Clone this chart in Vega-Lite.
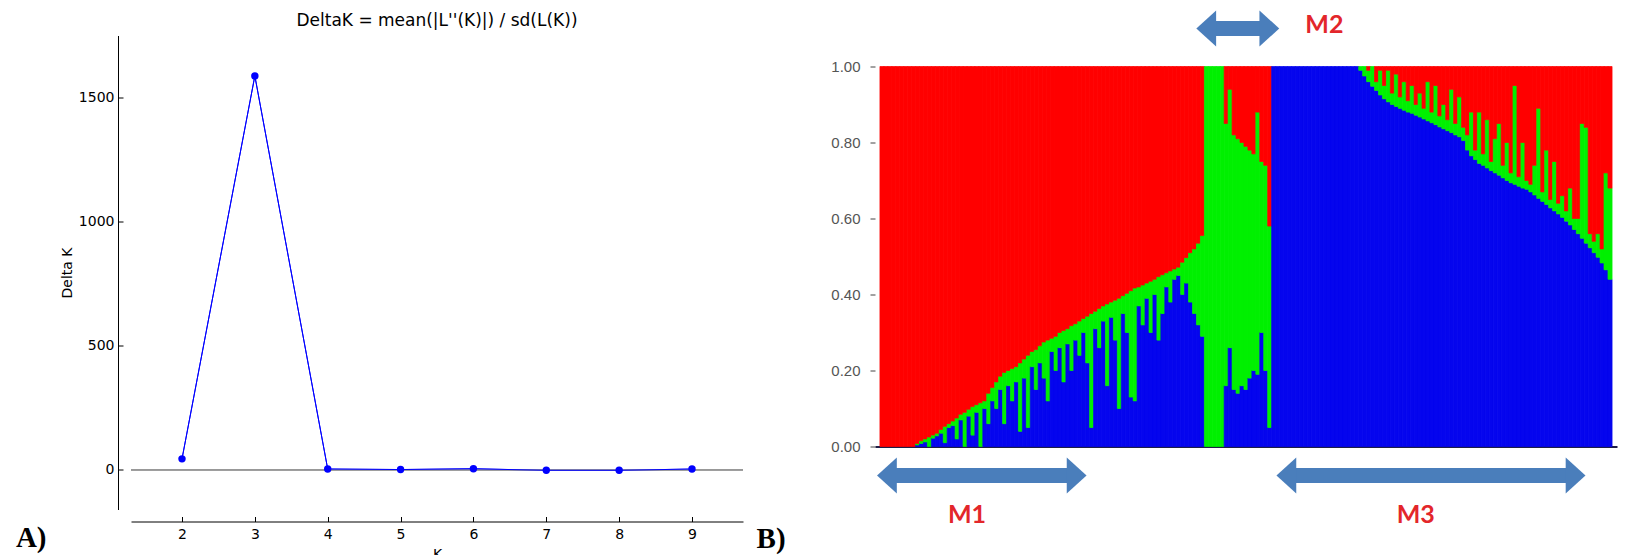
{
 "$schema": "https://vega.github.io/schema/vega-lite/v6.json",
 "background": "white",
 "padding": {"left": 15, "top": 10.5, "right": 5, "bottom": 0},
 "spacing": 132,
 "bounds": "flush",
 "config": {"view": {"stroke": null}, "axis": {"grid": false}},
 "datasets": {
  "deltak": [
   {"K": 2, "deltaK": 44}, {"K": 3, "deltaK": 1587}, {"K": 4, "deltaK": 3}, {"K": 5, "deltaK": 1},
   {"K": 6, "deltaK": 4}, {"K": 7, "deltaK": -2}, {"K": 8, "deltaK": -2}, {"K": 9, "deltaK": 3}
  ],
  "panelA": [{"text": "A)", "k": -0.28, "v": -313}],
  "panelB": [{"text": "B)", "i": -30.7, "q": -0.266}],
  "arrows": [
   {"label": "M1", "from": -0.25, "to": 52.7, "q": -0.076},
   {"label": "M2", "from": 80.45, "to": 101.4, "q": 1.1},
   {"label": "M3", "from": 100.7, "to": 178.8, "q": -0.076}
  ],
  "arrowLabels": [
   {"label": "M1", "i": 22.5, "q": -0.179},
   {"label": "M2", "i": 112.8, "q": 1.108},
   {"label": "M3", "i": 135.9, "q": -0.179}
  ],
  "structure": [
   {"i":1,"K1":0,"K2":0,"K3":1},{"i":2,"K1":0,"K2":0,"K3":1},{"i":3,"K1":0,"K2":0,"K3":1},{"i":4,"K1":0,"K2":0,"K3":1},{"i":5,"K1":0,"K2":0,"K3":1},{"i":6,"K1":0,"K2":0,"K3":1},{"i":7,"K1":0,"K2":0,"K3":1},{"i":8,"K1":0,"K2":0,"K3":1},{"i":9,"K1":0,"K2":0,"K3":1},
   {"i":10,"K1":0.004,"K2":0.004,"K3":0.992},{"i":11,"K1":0.008,"K2":0.007,"K3":0.985},{"i":12,"K1":0.012,"K2":0.008,"K3":0.98},{"i":13,"K1":0,"K2":0.025,"K3":0.975},{"i":14,"K1":0.022,"K2":0.008,"K3":0.97},{"i":15,"K1":0.028,"K2":0.007,"K3":0.965},{"i":16,"K1":0.035,"K2":0.01,"K3":0.955},{"i":17,"K1":0.01,"K2":0.043,"K3":0.947},{"i":18,"K1":0.05,"K2":0.01,"K3":0.94},{"i":19,"K1":0.055,"K2":0.012,"K3":0.933},
   {"i":20,"K1":0.02,"K2":0.055,"K3":0.925},{"i":21,"K1":0.07,"K2":0.015,"K3":0.915},{"i":22,"K1":0,"K2":0.09,"K3":0.91},{"i":23,"K1":0.08,"K2":0.018,"K3":0.902},{"i":24,"K1":0.03,"K2":0.075,"K3":0.895},{"i":25,"K1":0.09,"K2":0.02,"K3":0.89},{"i":26,"K1":0,"K2":0.115,"K3":0.885},{"i":27,"K1":0.1,"K2":0.02,"K3":0.88},{"i":28,"K1":0.06,"K2":0.08,"K3":0.86},{"i":29,"K1":0.12,"K2":0.035,"K3":0.845},
   {"i":30,"K1":0.1,"K2":0.07,"K3":0.83},{"i":31,"K1":0.15,"K2":0.035,"K3":0.815},{"i":32,"K1":0.06,"K2":0.135,"K3":0.805},{"i":33,"K1":0.16,"K2":0.04,"K3":0.8},{"i":34,"K1":0.12,"K2":0.085,"K3":0.795},{"i":35,"K1":0.17,"K2":0.04,"K3":0.79},{"i":36,"K1":0.04,"K2":0.18,"K3":0.78},{"i":37,"K1":0.18,"K2":0.05,"K3":0.77},{"i":38,"K1":0.05,"K2":0.19,"K3":0.76},{"i":39,"K1":0.21,"K2":0.04,"K3":0.75},
   {"i":40,"K1":0.15,"K2":0.105,"K3":0.745},{"i":41,"K1":0.22,"K2":0.045,"K3":0.735},{"i":42,"K1":0.18,"K2":0.095,"K3":0.725},{"i":43,"K1":0.12,"K2":0.16,"K3":0.72},{"i":44,"K1":0.25,"K2":0.035,"K3":0.715},{"i":45,"K1":0.2,"K2":0.09,"K3":0.71},{"i":46,"K1":0.26,"K2":0.04,"K3":0.7},{"i":47,"K1":0.17,"K2":0.135,"K3":0.695},{"i":48,"K1":0.27,"K2":0.04,"K3":0.69},{"i":49,"K1":0.2,"K2":0.118,"K3":0.682},
   {"i":50,"K1":0.28,"K2":0.043,"K3":0.677},{"i":51,"K1":0.24,"K2":0.09,"K3":0.67},{"i":52,"K1":0.3,"K2":0.037,"K3":0.663},{"i":53,"K1":0.22,"K2":0.123,"K3":0.657},{"i":54,"K1":0.05,"K2":0.3,"K3":0.65},{"i":55,"K1":0.31,"K2":0.046,"K3":0.644},{"i":56,"K1":0.26,"K2":0.103,"K3":0.637},{"i":57,"K1":0.33,"K2":0.04,"K3":0.63},{"i":58,"K1":0.16,"K2":0.215,"K3":0.625},{"i":59,"K1":0.34,"K2":0.04,"K3":0.62},
   {"i":60,"K1":0.28,"K2":0.105,"K3":0.615},{"i":61,"K1":0.1,"K2":0.29,"K3":0.61},{"i":62,"K1":0.35,"K2":0.047,"K3":0.603},{"i":63,"K1":0.3,"K2":0.103,"K3":0.597},{"i":64,"K1":0.13,"K2":0.28,"K3":0.59},{"i":65,"K1":0.12,"K2":0.297,"K3":0.583},{"i":66,"K1":0.37,"K2":0.05,"K3":0.58},{"i":67,"K1":0.32,"K2":0.105,"K3":0.575},{"i":68,"K1":0.39,"K2":0.04,"K3":0.57},{"i":69,"K1":0.3,"K2":0.135,"K3":0.565},
   {"i":70,"K1":0.4,"K2":0.04,"K3":0.56},{"i":71,"K1":0.28,"K2":0.167,"K3":0.553},{"i":72,"K1":0.35,"K2":0.102,"K3":0.548},{"i":73,"K1":0.42,"K2":0.037,"K3":0.543},{"i":74,"K1":0.38,"K2":0.082,"K3":0.538},{"i":75,"K1":0.44,"K2":0.027,"K3":0.533},{"i":76,"K1":0.45,"K2":0.022,"K3":0.528},{"i":77,"K1":0.4,"K2":0.085,"K3":0.515},{"i":78,"K1":0.43,"K2":0.067,"K3":0.503},{"i":79,"K1":0.38,"K2":0.13,"K3":0.49},
   {"i":80,"K1":0.35,"K2":0.17,"K3":0.48},{"i":81,"K1":0.32,"K2":0.215,"K3":0.465},{"i":82,"K1":0.29,"K2":0.265,"K3":0.445},
   {"i":83,"K1":0,"K2":1,"K3":0},{"i":84,"K1":0,"K2":1,"K3":0},{"i":85,"K1":0,"K2":1,"K3":0},{"i":86,"K1":0,"K2":1,"K3":0},{"i":87,"K1":0,"K2":1,"K3":0},
   {"i":88,"K1":0.16,"K2":0.69,"K3":0.15},{"i":89,"K1":0.26,"K2":0.68,"K3":0.06},{"i":90,"K1":0.15,"K2":0.67,"K3":0.18},{"i":91,"K1":0.14,"K2":0.67,"K3":0.19},{"i":92,"K1":0.16,"K2":0.64,"K3":0.2},{"i":93,"K1":0.15,"K2":0.64,"K3":0.21},{"i":94,"K1":0.18,"K2":0.6,"K3":0.22},{"i":95,"K1":0.2,"K2":0.57,"K3":0.23},{"i":96,"K1":0.19,"K2":0.69,"K3":0.12},{"i":97,"K1":0.3,"K2":0.45,"K3":0.25},{"i":98,"K1":0.2,"K2":0.54,"K3":0.26},{"i":99,"K1":0.05,"K2":0.53,"K3":0.42},
   {"i":100,"K1":1,"K2":0,"K3":0},{"i":101,"K1":1,"K2":0,"K3":0},{"i":102,"K1":1,"K2":0,"K3":0},{"i":103,"K1":1,"K2":0,"K3":0},{"i":104,"K1":1,"K2":0,"K3":0},{"i":105,"K1":1,"K2":0,"K3":0},{"i":106,"K1":1,"K2":0,"K3":0},{"i":107,"K1":1,"K2":0,"K3":0},{"i":108,"K1":1,"K2":0,"K3":0},{"i":109,"K1":1,"K2":0,"K3":0},{"i":110,"K1":1,"K2":0,"K3":0},
   {"i":111,"K1":1,"K2":0,"K3":0},{"i":112,"K1":1,"K2":0,"K3":0},{"i":113,"K1":1,"K2":0,"K3":0},{"i":114,"K1":1,"K2":0,"K3":0},{"i":115,"K1":1,"K2":0,"K3":0},{"i":116,"K1":1,"K2":0,"K3":0},{"i":117,"K1":1,"K2":0,"K3":0},{"i":118,"K1":1,"K2":0,"K3":0},{"i":119,"K1":1,"K2":0,"K3":0},{"i":120,"K1":1,"K2":0,"K3":0},{"i":121,"K1":1,"K2":0,"K3":0},
   {"i":122,"K1":0.99,"K2":0.01,"K3":0},{"i":123,"K1":0.975,"K2":0.025,"K3":0},{"i":124,"K1":0.96,"K2":0.03,"K3":0.01},{"i":125,"K1":0.948,"K2":0.052,"K3":0},{"i":126,"K1":0.937,"K2":0.023,"K3":0.04},{"i":127,"K1":0.925,"K2":0.065,"K3":0.01},{"i":128,"K1":0.915,"K2":0.035,"K3":0.05},{"i":129,"K1":0.907,"K2":0.083,"K3":0.01},
   {"i":130,"K1":0.9,"K2":0.03,"K3":0.07},{"i":131,"K1":0.895,"K2":0.085,"K3":0.02},{"i":132,"K1":0.89,"K2":0.03,"K3":0.08},{"i":133,"K1":0.885,"K2":0.075,"K3":0.04},{"i":134,"K1":0.88,"K2":0.03,"K3":0.09},{"i":135,"K1":0.877,"K2":0.073,"K3":0.05},{"i":136,"K1":0.872,"K2":0.028,"K3":0.1},{"i":137,"K1":0.867,"K2":0.063,"K3":0.07},{"i":138,"K1":0.862,"K2":0.028,"K3":0.11},{"i":139,"K1":0.857,"K2":0.103,"K3":0.04},
   {"i":140,"K1":0.852,"K2":0.028,"K3":0.12},{"i":141,"K1":0.847,"K2":0.103,"K3":0.05},{"i":142,"K1":0.841,"K2":0.029,"K3":0.13},{"i":143,"K1":0.836,"K2":0.064,"K3":0.1},{"i":144,"K1":0.831,"K2":0.029,"K3":0.14},{"i":145,"K1":0.826,"K2":0.114,"K3":0.06},{"i":146,"K1":0.82,"K2":0.03,"K3":0.15},{"i":147,"K1":0.815,"K2":0.105,"K3":0.08},{"i":148,"K1":0.805,"K2":0.035,"K3":0.16},{"i":149,"K1":0.78,"K2":0.04,"K3":0.18},
   {"i":150,"K1":0.765,"K2":0.115,"K3":0.12},{"i":151,"K1":0.755,"K2":0.025,"K3":0.22},{"i":152,"K1":0.745,"K2":0.135,"K3":0.12},{"i":153,"K1":0.74,"K2":0.03,"K3":0.23},{"i":154,"K1":0.733,"K2":0.127,"K3":0.14},{"i":155,"K1":0.726,"K2":0.024,"K3":0.25},{"i":156,"K1":0.72,"K2":0.09,"K3":0.19},{"i":157,"K1":0.714,"K2":0.136,"K3":0.15},{"i":158,"K1":0.707,"K2":0.033,"K3":0.26},{"i":159,"K1":0.7,"K2":0.1,"K3":0.2},
   {"i":160,"K1":0.694,"K2":0.026,"K3":0.28},{"i":161,"K1":0.69,"K2":0.26,"K3":0.05},{"i":162,"K1":0.685,"K2":0.025,"K3":0.29},{"i":163,"K1":0.68,"K2":0.12,"K3":0.2},{"i":164,"K1":0.677,"K2":0.023,"K3":0.3},{"i":165,"K1":0.67,"K2":0.02,"K3":0.31},{"i":166,"K1":0.662,"K2":0.078,"K3":0.26},{"i":167,"K1":0.653,"K2":0.237,"K3":0.11},{"i":168,"K1":0.645,"K2":0.025,"K3":0.33},{"i":169,"K1":0.637,"K2":0.143,"K3":0.22},
   {"i":170,"K1":0.628,"K2":0.022,"K3":0.35},{"i":171,"K1":0.62,"K2":0.13,"K3":0.25},{"i":172,"K1":0.612,"K2":0.028,"K3":0.36},{"i":173,"K1":0.603,"K2":0.057,"K3":0.34},{"i":174,"K1":0.593,"K2":0.027,"K3":0.38},{"i":175,"K1":0.583,"K2":0.097,"K3":0.32},{"i":176,"K1":0.571,"K2":0.029,"K3":0.4},{"i":177,"K1":0.56,"K2":0.04,"K3":0.4},{"i":178,"K1":0.548,"K2":0.302,"K3":0.15},{"i":179,"K1":0.535,"K2":0.305,"K3":0.16},
   {"i":180,"K1":0.523,"K2":0.037,"K3":0.44},{"i":181,"K1":0.51,"K2":0.03,"K3":0.46},{"i":182,"K1":0.498,"K2":0.062,"K3":0.44},{"i":183,"K1":0.483,"K2":0.037,"K3":0.48},{"i":184,"K1":0.465,"K2":0.255,"K3":0.28},{"i":185,"K1":0.44,"K2":0.24,"K3":0.32}
  ]
 },
 "hconcat": [
  {
   "width": 612,
   "height": 474,
   "title": {"text": "DeltaK = mean(|L''(K)|) / sd(L(K))", "font": "DejaVu Sans", "fontSize": 17, "fontWeight": "normal", "color": "#000000", "frame": "group", "anchor": "middle", "baseline": "alphabetic", "offset": -7.5},
   "layer": [
    {
     "data": {"name": "deltak"},
     "mark": {"type": "line", "color": "#0000ff", "strokeWidth": 1},
     "encoding": {
      "x": {"field": "K", "type": "quantitative", "scale": {"domain": [1.3, 9.7], "nice": false, "zero": false},
            "axis": {"values": [2,3,4,5,6,7,8,9], "format": "d", "offset": 12, "tickSize": -5, "tickColor": "#000000", "domainColor": "#000000", "labelFont": "DejaVu Sans", "labelFontSize": 14, "labelColor": "#000000", "labelPadding": 11, "labelFlush": false, "title": "K", "titleFont": "DejaVu Sans", "titleFontSize": 14, "titleFontWeight": "normal", "titleColor": "#000000", "titlePadding": 6}},
      "y": {"field": "deltaK", "type": "quantitative", "scale": {"domain": [-160, 1750], "nice": false, "zero": false},
            "axis": {"values": [0, 500, 1000, 1500], "format": "d", "offset": 13, "tickSize": -5, "tickColor": "#000000", "domainColor": "#000000", "labelFont": "DejaVu Sans", "labelFontSize": 14, "labelColor": "#000000", "labelPadding": 9, "title": "Delta K", "titleFont": "DejaVu Sans", "titleFontSize": 14, "titleFontWeight": "normal", "titleColor": "#000000", "titlePadding": 4}}
     }
    },
    {
     "data": {"name": "deltak"},
     "mark": {"type": "rule", "color": "#999999", "strokeWidth": 1},
     "encoding": {"y": {"datum": 0, "type": "quantitative"}}
    },
    {
     "data": {"name": "deltak"},
     "mark": {"type": "line", "color": "#0000ff", "strokeWidth": 1},
     "encoding": {
      "x": {"field": "K", "type": "quantitative"},
      "y": {"field": "deltaK", "type": "quantitative"}
     }
    },
    {
     "data": {"name": "deltak"},
     "mark": {"type": "point", "filled": true, "color": "#0000ff", "opacity": 1, "size": 55},
     "encoding": {
      "x": {"field": "K", "type": "quantitative"},
      "y": {"field": "deltaK", "type": "quantitative"}
     }
    },
    {
     "data": {"name": "panelA"},
     "mark": {"type": "text", "font": "Liberation Serif", "fontSize": 29, "fontWeight": "bold", "align": "left", "baseline": "alphabetic", "color": "#000000"},
     "encoding": {
      "x": {"field": "k", "type": "quantitative"},
      "y": {"field": "v", "type": "quantitative"},
      "text": {"field": "text"}
     }
    }
   ]
  },
  {
   "width": 742,
   "height": 411,
   "layer": [
    {
     "data": {"name": "structure"},
     "transform": [{"fold": ["K1", "K2", "K3"], "as": ["cluster", "q"]}, {"filter": "datum.q > 0"}],
     "mark": {"type": "bar", "width": 4.1, "strokeWidth": 0.7},
     "encoding": {
      "x": {"field": "i", "type": "quantitative", "scale": {"domain": [0.5, 185.5], "nice": false, "zero": false},
            "axis": {"labels": false, "ticks": false, "title": null, "domainColor": "#1e1e46", "domainWidth": 2}},
      "y": {"field": "q", "type": "quantitative", "stack": "zero", "scale": {"domain": [0, 1.0816], "nice": false},
            "axis": {"values": [0, 0.2, 0.4, 0.6, 0.8, 1], "format": ".2f", "domain": false, "tickSize": 5, "tickColor": "#444444", "labelColor": "#555555", "labelFont": "Liberation Sans", "labelFontSize": 15, "labelPadding": 10, "title": null}},
      "color": {"field": "cluster", "type": "nominal", "scale": {"domain": ["K1", "K2", "K3"], "range": ["#0505ee", "#00f000", "#ff0000"]}, "legend": null},
      "stroke": {"field": "cluster", "type": "nominal", "scale": {"domain": ["K1", "K2", "K3"], "range": ["#0505ee", "#00f000", "#ff0000"]}, "legend": null},
      "order": {"field": "cluster", "sort": "ascending"}
     }
    },
    {
     "data": {"name": "arrows"},
     "mark": {"type": "rule", "color": "#4a7ebb", "strokeWidth": 15, "strokeCap": "butt", "xOffset": 19, "x2Offset": -19},
     "encoding": {
      "x": {"field": "from", "type": "quantitative"},
      "x2": {"field": "to"},
      "y": {"field": "q", "type": "quantitative"}
     }
    },
    {
     "data": {"name": "arrows"},
     "mark": {"type": "point", "shape": "M0,0L1.1,-1L1.1,1Z", "filled": true, "color": "#4a7ebb", "opacity": 1, "size": 1296},
     "encoding": {
      "x": {"field": "from", "type": "quantitative"},
      "y": {"field": "q", "type": "quantitative"}
     }
    },
    {
     "data": {"name": "arrows"},
     "mark": {"type": "point", "shape": "M0,0L-1.1,-1L-1.1,1Z", "filled": true, "color": "#4a7ebb", "opacity": 1, "size": 1296},
     "encoding": {
      "x": {"field": "to", "type": "quantitative"},
      "y": {"field": "q", "type": "quantitative"}
     }
    },
    {
     "data": {"name": "arrowLabels"},
     "mark": {"type": "text", "font": "Lato", "fontSize": 25, "fontWeight": "bold", "color": "#e3262b", "align": "center", "baseline": "middle"},
     "encoding": {
      "x": {"field": "i", "type": "quantitative"},
      "y": {"field": "q", "type": "quantitative"},
      "text": {"field": "label"}
     }
    },
    {
     "data": {"name": "panelB"},
     "mark": {"type": "text", "font": "Liberation Serif", "fontSize": 29, "fontWeight": "bold", "align": "left", "baseline": "alphabetic", "color": "#000000"},
     "encoding": {
      "x": {"field": "i", "type": "quantitative"},
      "y": {"field": "q", "type": "quantitative"},
      "text": {"field": "text"}
     }
    }
   ]
  }
 ]
}
